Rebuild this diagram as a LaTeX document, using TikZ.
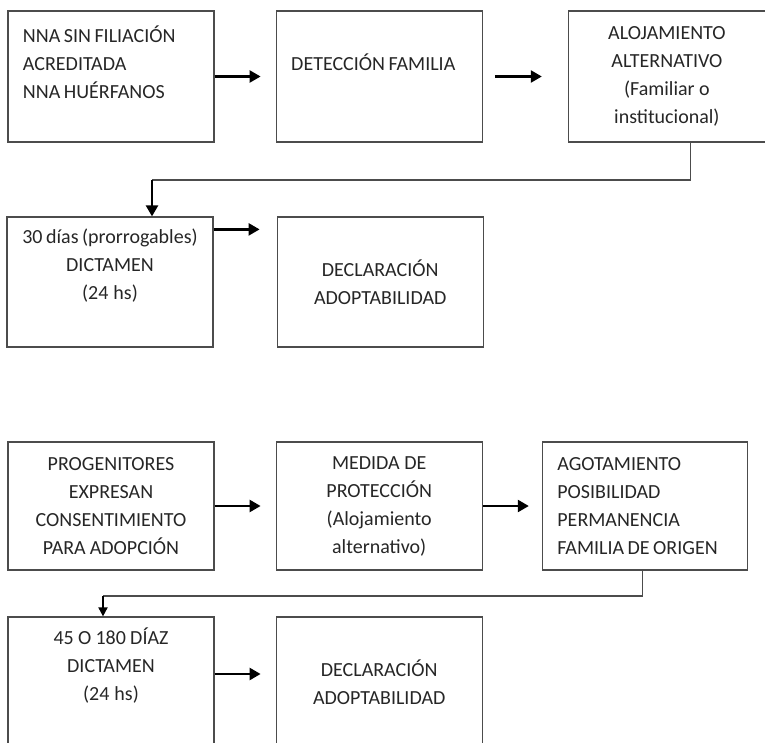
\documentclass[tikz,border=0pt]{standalone}
\usepackage{fontspec}
\setmainfont{Carlito}
\usepackage{tikz}
\usetikzlibrary{arrows.meta,positioning}
\hyphenpenalty=10000
\newcommand{\boxfont}{\fontsize{20}{28}\selectfont}
\newcommand{\tightsp}{\spaceskip=3.5pt plus 1pt minus 1pt\relax}

\begin{document}
\begin{tikzpicture}[
  box/.style={rectangle,draw=black!70,line width=1.2pt,inner xsep=15pt,inner ysep=0pt,
    text width=176pt,minimum height=131pt,text=black!85,font=\boxfont,
    execute at begin node=\tightsp},
  arr/.style={-{Triangle[length=11pt,width=12pt]},line width=2.4pt},
  link/.style={draw=black!70,line width=1.2pt}]
  \clip (0,0) rectangle (765pt,-743pt);

  % first route
  \node[box,align=left] (sinfil) at (111pt,-76.5pt)
    {NNA SIN FILIACIÓN\\ACREDITADA\\NNA HUÉRFANOS\\[-8pt] \strut};
  \node[box,align=left] (deteccion) [right=61pt of sinfil] {DETECCIÓN FAMILIA\\[-8pt] \strut};
  \node[box,align=center,text width=167pt] (alojam) [right=85pt of deteccion]
    {ALOJAMIENTO\\ALTERNATIVO\\(Familiar o\\institucional)};
  \node[box,align=center,text width=176pt,minimum height=130pt] (treinta) at (110pt,-282pt)
    {30 días (prorrogables)\\DICTAMEN\\(24 hs)\\ \strut};
  \node[box,align=center,minimum height=130pt] (declara) [right=63pt of treinta]
    {DECLARACIÓN\\ADOPTABILIDAD};

  \draw[arr,shorten >=15pt] (sinfil) -- (deteccion);
  \draw[arr,shorten <=12pt,shorten >=26pt] (deteccion) -- (alojam);
  \coordinate (kink) at (152pt,-180pt);
  \draw[link] ([xshift=23.5pt]alojam.south) |- (kink);
  \draw[arr] (kink) -- ([xshift=42pt]treinta.north);
  \draw[arr,shorten >=17pt] ([yshift=-13pt]treinta.north east) -- ([yshift=-13pt]declara.north west);

  % second route
  \node[box,align=center,minimum height=128pt] (progen) at (111pt,-506pt)
    {PROGENITORES\\EXPRESAN\\CONSENTIMIENTO\\PARA ADOPCIÓN};
  \node[box,align=center,minimum height=128pt] (medida) [right=61pt of progen]
    {MEDIDA DE\\PROTECCIÓN\\(Alojamiento\\alternativo)};
  \node[box,align=left,text width=175pt,minimum height=128pt] (agota) [right=59pt of medida]
    {AGOTAMIENTO\\POSIBILIDAD\\PERMANENCIA\\FAMILIA DE ORIGEN};
  \node[box,align=center] (cuarenta) at (111pt,-682.5pt)
    {45 O 180 DÍAZ\\DICTAMEN\\(24 hs)\\ \strut};
  \node[box,align=center] (declarb) [right=61pt of cuarenta]
    {DECLARACIÓN\\ADOPTABILIDAD};

  \draw[arr,shorten >=15pt] (progen) -- (medida);
  \draw[arr,shorten >=13pt] (medida) -- (agota);
  \coordinate (kinkb) at (103pt,-596pt);
  \draw[link] ([xshift=-2.5pt]agota.south) |- (kinkb);
  \draw[-{Triangle[length=9pt,width=9pt]},line width=1.8pt] (kinkb) -- ([xshift=-8pt]cuarenta.north);
  \draw[arr,shorten >=15pt] ([yshift=8.5pt]cuarenta.east) -- ([yshift=8.5pt]declarb.west);
\end{tikzpicture}
\end{document}
